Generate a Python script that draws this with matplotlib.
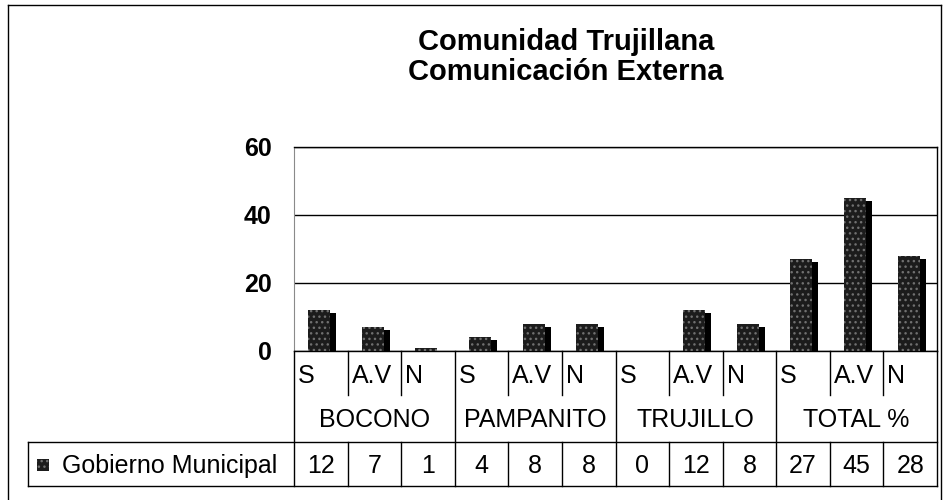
import matplotlib
matplotlib.use('Agg')
import matplotlib.pyplot as plt
from matplotlib import transforms as mtransforms
from matplotlib.lines import Line2D
from matplotlib.patches import Rectangle

groups = ['BOCONO', 'PAMPANITO', 'TRUJILLO', 'TOTAL %']
subcats = ['S', 'A.V', 'N']
series_name = 'Gobierno Municipal'
values = [12, 7, 1, 4, 8, 8, 0, 12, 8, 27, 45, 28]
yticks = [0, 20, 40, 60]
title_lines = ['Comunidad Trujillana', 'Comunicación Externa']

W, H = 944, 500
plt.rcParams['font.family'] = ['Liberation Sans', 'DejaVu Sans']
plt.rcParams['hatch.linewidth'] = 1.0
fig = plt.figure(figsize=(W / 100, H / 100), dpi=100)


def fx(x):
    return x / W


def fy(y):
    return 1 - y / H


ax = fig.add_axes([fx(294), fy(351), fx(937) - fx(294), fy(147) - fy(351)])
n = len(values)
xs = list(range(n))
ax.set_xlim(-0.5, n - 0.5)
ax.set_ylim(yticks[0], yticks[-1])

bw = 0.41
xoff = -0.03
# shadow (depth) bars, shifted right and down in pixels
shift = mtransforms.ScaledTranslation(6 / 100, -3 / 100, fig.dpi_scale_trans)
shadow = ax.bar([x + xoff for x in xs], values, width=bw, color='black', zorder=2, linewidth=0)
for p in shadow.patches:
    p.set_transform(ax.transData + shift)
# front face bars
front = ax.bar([x + xoff for x in xs], values, width=bw, facecolor='#1c1c1c',
               edgecolor='#707070', linewidth=0, hatch='...', zorder=3)

ax.set_yticks(yticks)
ax.set_yticklabels([str(v) for v in yticks], fontsize=18, fontweight='bold')
ax.tick_params(axis='y', length=0, pad=16)
ax.set_xticks([])
ax.yaxis.grid(True, color='black', linewidth=1.0)
ax.set_axisbelow(True)
for s in ['top', 'right', 'bottom']:
    ax.spines[s].set_color('black')
    ax.spines[s].set_linewidth(1.0)
ax.spines['left'].set_color('#8a8a8a')
ax.spines['left'].set_linewidth(0.8)

# title
fig.text(fx(566), fy(42), title_lines[0], ha='center', va='center', fontsize=21, fontweight='bold')
fig.text(fx(566), fy(72), title_lines[1], ha='center', va='center', fontsize=21, fontweight='bold')

# table
bt = mtransforms.blended_transform_factory(ax.transData, fig.transFigure)
y0, y1, y2, y3 = 351, 395, 442, 486
lw = 1.0
for k in range(n + 1):
    b = k - 0.5
    if k % 3 == 0:
        fig.add_artist(Line2D([b, b], [fy(y0), fy(y3)], transform=bt, color='black', lw=lw))
    else:
        fig.add_artist(Line2D([b, b], [fy(y0), fy(y1)], transform=bt, color='black', lw=lw))
        fig.add_artist(Line2D([b, b], [fy(y2), fy(y3)], transform=bt, color='black', lw=lw))
for yy in (y2, y3):
    fig.add_artist(Line2D([fx(28), fx(937)], [fy(yy), fy(yy)], transform=fig.transFigure, color='black', lw=lw))
fig.add_artist(Line2D([fx(28), fx(28)], [fy(y2), fy(y3)], transform=fig.transFigure, color='black', lw=lw))

pad = mtransforms.ScaledTranslation(4 / 100, 0, fig.dpi_scale_trans)
for k in range(n):
    fig.text(k - 0.5, fy(376), subcats[k % 3], transform=bt + pad, ha='left', va='center', fontsize=18)
    fig.text(k, fy(466), str(values[k]), transform=bt, ha='center', va='center', fontsize=18)
for g, name in enumerate(groups):
    fig.text(3 * g + 1, fy(420), name, transform=bt, ha='center', va='center', fontsize=18)

fig.text(fx(62), fy(466), series_name, ha='left', va='center', fontsize=18)
fig.add_artist(Rectangle((fx(37), fy(471)), fx(12), 12 / H, transform=fig.transFigure,
                         facecolor='#1c1c1c', edgecolor='#707070', linewidth=0, hatch='...'))

# outer frame
fig.add_artist(Line2D([fx(8), fx(8)], [fy(5), fy(500)], transform=fig.transFigure, color='black', lw=lw))
fig.add_artist(Line2D([fx(8), fx(941)], [fy(5), fy(5)], transform=fig.transFigure, color='black', lw=lw))
fig.add_artist(Line2D([fx(941), fx(941)], [fy(5), fy(500)], transform=fig.transFigure, color='black', lw=lw))

fig.savefig('out.png', dpi=100)
